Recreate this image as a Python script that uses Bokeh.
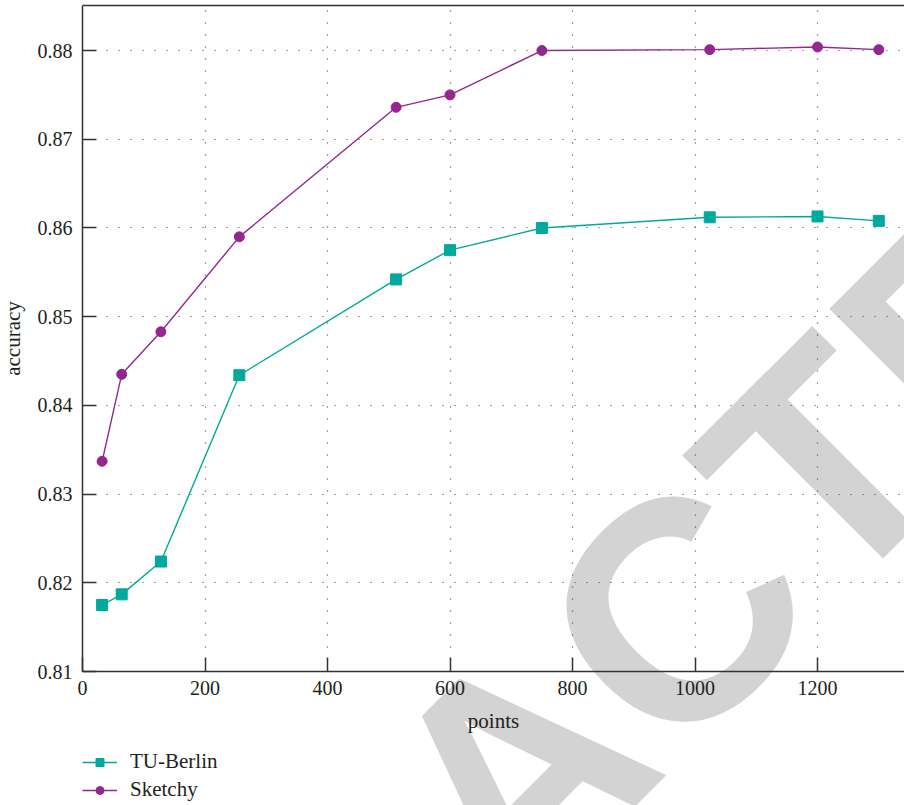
from bokeh.plotting import figure
from bokeh.models import Range1d, LinearAxis, FixedTicker, Legend, LegendItem, Label
from bokeh.embed import file_html
from bokeh.resources import INLINE

# ---- data ----
points = [32, 64, 128, 256, 512, 600, 750, 1024, 1200, 1300]
tu_berlin = [0.8175, 0.8187, 0.8224, 0.8434, 0.8542, 0.8575, 0.8600, 0.8612, 0.8613, 0.8608]
sketchy = [0.8337, 0.8435, 0.8483, 0.8590, 0.8736, 0.8750, 0.8800, 0.8801, 0.8804, 0.8801]
x_ticks = [0, 200, 400, 600, 800, 1000, 1200]
y_ticks = [0.81, 0.82, 0.83, 0.84, 0.85, 0.86, 0.87, 0.88]
series_names = ["TU-Berlin", "Sketchy"]

# plot-area limits (axes / box) and full view ranges
X_MIN, X_MAX = 0, 1342
Y_MIN, Y_MAX = 0.81, 0.88507
VIEW_X = (-133.9, 1342.0)
VIEW_Y = (0.79490, 0.88564)

TEAL = "#00A99D"
PURPLE = "#93278F"
SERIF = "Liberation Serif"
TEXT = "#231f20"
AXIS = "#333333"

p = figure(width=904, height=805,
           x_range=Range1d(*VIEW_X), y_range=Range1d(*VIEW_Y),
           output_backend="svg", toolbar_location=None, min_border=0)
p.outline_line_color = None
p.background_fill_color = "white"
p.border_fill_color = "white"

# watermark (under everything)
wm = Label(x=708, y=0.7986, text="RETRACTED", angle=45, angle_units="deg",
           text_font="Liberation Sans", text_font_style="bold",
           text_font_size="312px", text_color="#d3d3d3",
           text_align="center", text_baseline="alphabetic", level="image")
p.add_layout(wm)

# grids
for g in (p.xgrid, p.ygrid):
    g.grid_line_color = "#444444"
    g.grid_line_dash = "1 11"
    g.grid_line_width = 1.2
p.xgrid.ticker = FixedTicker(ticks=x_ticks)
p.ygrid.ticker = FixedTicker(ticks=y_ticks)
p.xgrid.bounds = (X_MIN, X_MAX)
p.ygrid.bounds = (Y_MIN, Y_MAX)
p.xgrid.cross_bounds = (Y_MIN, Y_MAX)
p.ygrid.cross_bounds = (X_MIN, X_MAX)

# axes
for ax in (p.xaxis[0], p.yaxis[0]):
    ax.axis_line_color = AXIS
    ax.axis_line_width = 1.5
    ax.major_tick_line_color = AXIS
    ax.major_tick_line_width = 1.5
    ax.major_tick_in = 14
    ax.major_tick_out = 0
    ax.minor_tick_line_color = None
    ax.major_label_text_font = SERIF
    ax.major_label_text_font_size = "20px"
    ax.major_label_text_color = TEXT
    ax.axis_label_text_font = SERIF
    ax.axis_label_text_font_size = "21px"
    ax.axis_label_text_font_style = "normal"
    ax.axis_label_text_color = TEXT
p.xaxis[0].ticker = FixedTicker(ticks=x_ticks)
p.yaxis[0].ticker = FixedTicker(ticks=y_ticks)
p.xaxis[0].fixed_location = Y_MIN
p.yaxis[0].fixed_location = X_MIN
p.xaxis[0].bounds = (X_MIN, X_MAX)
p.yaxis[0].bounds = (Y_MIN, Y_MAX)
p.xaxis[0].axis_label = "points"
p.yaxis[0].axis_label = "accuracy"
p.xaxis[0].major_label_standoff = 9
p.xaxis[0].axis_label_standoff = 11
p.yaxis[0].major_label_standoff = 10
p.yaxis[0].axis_label_standoff = 10

top = LinearAxis(ticker=FixedTicker(ticks=[]), axis_line_color=AXIS,
                 axis_line_width=1.5, major_tick_line_color=None,
                 minor_tick_line_color=None, major_label_text_font_size="0px",
                 fixed_location=Y_MAX, bounds=(X_MIN, X_MAX))
p.add_layout(top, "above")

# series
l1 = p.line(points, tu_berlin, line_color=TEAL, line_width=1.4)
s1 = p.scatter(points, tu_berlin, marker="square", size=11, fill_color=TEAL, line_color=TEAL)
l2 = p.line(points, sketchy, line_color=PURPLE, line_width=1.4)
s2 = p.scatter(points, sketchy, marker="circle", size=10, fill_color=PURPLE, line_color=PURPLE)

legend = Legend(items=[LegendItem(label=series_names[0], renderers=[l1, s1]),
                       LegendItem(label=series_names[1], renderers=[l2, s2])],
                location=(82, 3), orientation="vertical")
legend.border_line_color = None
legend.background_fill_alpha = 0
legend.padding = 0
legend.margin = 0
legend.spacing = 3
legend.glyph_width = 35
legend.glyph_height = 20
legend.label_height = 20
legend.label_standoff = 13
legend.label_text_font = SERIF
legend.label_text_font_size = "21px"
legend.label_text_color = TEXT
p.add_layout(legend, "center")

open("out.html", "w").write(file_html(p, INLINE))
